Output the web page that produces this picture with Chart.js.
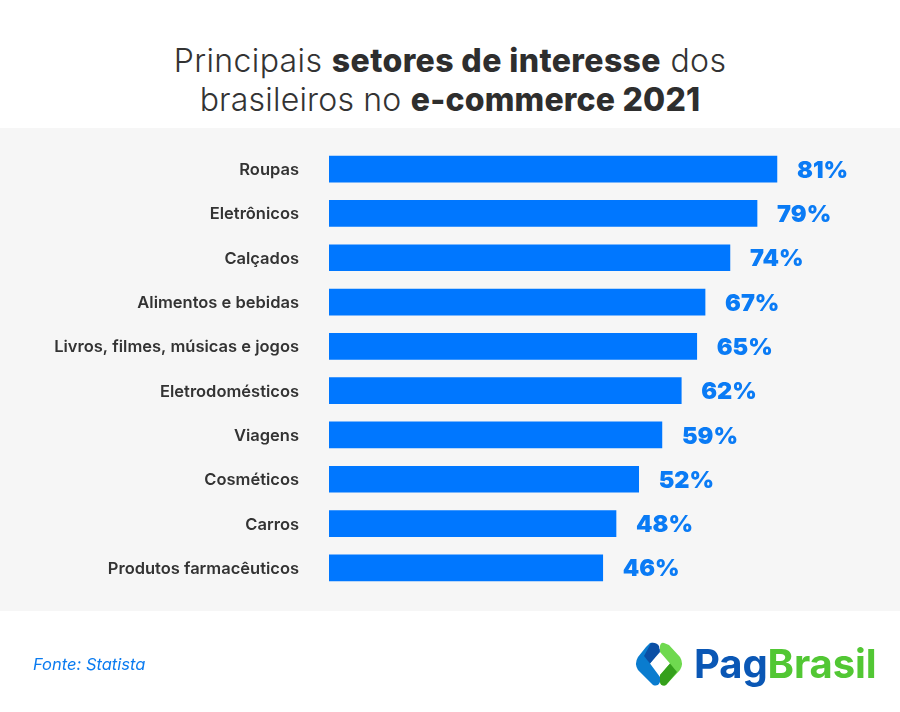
<!DOCTYPE html>
<html>
<head>
<meta charset="utf-8">
<script src="https://cdn.jsdelivr.net/npm/chart.js@4"></script>
<style>
  html, body { margin: 0; padding: 0; background: #fff; }
  #page { position: relative; width: 900px; height: 712px; overflow: hidden; font-family: Inter, sans-serif; }
  #panel { position: absolute; left: 0; top: 128px; width: 900px; height: 483px; background: #f6f6f6; }
  #graph { position: absolute; left: 0; top: 0; }
  .title { position: absolute; left: 0; width: 900px; text-align: center; font-size: 32px; line-height: 40px; font-weight: 300; color: #333; letter-spacing: 0.4px; white-space: nowrap; }
  .title b { font-weight: 800; color: #2e2e2e; }
  #source { position: absolute; left: 33px; top: 654px; font-size: 16.5px; line-height: 20px; font-style: italic; color: #0a7bf0; }
  #logo { position: absolute; left: 634px; top: 642px; }
  #brand { position: absolute; left: 694px; top: 639px; font-size: 40px; line-height: 50px; font-weight: 700; letter-spacing: -0.1px; color: #0a57b5; white-space: nowrap; }
  #brand span { color: #52c734; }
</style>
</head>
<body>
<div id="page">
  <div class="title" style="top:41px">Principais <b>setores de interesse</b> dos</div>
  <div class="title" style="top:80px;letter-spacing:0.2px">brasileiros no <b>e-commerce 2021</b></div>
  <div id="panel"></div>
  <canvas id="graph" width="900" height="712"></canvas>
  <div id="source">Fonte: Statista</div>
  <svg id="logo" width="50" height="46" viewBox="0 0 50 46">
    <path d="M16 1 Q19 0 21 2 L26 8 L16 21.5 L26 35 L26 40 Q24 45 19 43 L4 28 Q0 21.5 4 15 L12 5 Z" fill="#0a7ccf"/>
    <path d="M17 1 Q22 0 25 4 L26 10 L16 21.5 L10 14 Z" fill="#0b4fa5"/>
    <path d="M30 1 Q27 0 26 4 L26 10 L36 21.5 L26 33 L26 40 Q27 45 32 43 L46 28 Q50 21.5 46 15 L35 3 Z" fill="#6fd94f"/>
    <path d="M36 21.5 L26 33 L26 40 Q27 45 32 43 L43 30 Z" fill="#35a01c"/>
  </svg>
  <div id="brand">Pag<span>Brasil</span></div>
</div>
<script>
const categories = ['Roupas', 'Eletrônicos', 'Calçados', 'Alimentos e bebidas', 'Livros, filmes, músicas e jogos',
  'Eletrodomésticos', 'Viagens', 'Cosméticos', 'Carros', 'Produtos farmacêuticos'];
// printed percentages
const valueLabels = ['81%', '79%', '74%', '67%', '65%', '62%', '59%', '52%', '48%', '46%'];
// bar lengths as drawn in the picture, they are not strictly proportional to the printed numbers
const barLengths = [81, 77.4, 72.5, 68, 66.5, 63.7, 60.2, 56, 51.9, 49.5];

const valueLabelPlugin = {
  id: 'valueLabels',
  afterDatasetsDraw(chart) {
    const ctx = chart.ctx;
    ctx.save();
    ctx.font = '900 23.5px Inter, sans-serif';
    ctx.fillStyle = '#0a7bf5';
    ctx.textAlign = 'left';
    ctx.textBaseline = 'middle';
    chart.getDatasetMeta(0).data.forEach(function(bar, i) {
      ctx.fillText(valueLabels[i], bar.x + 20, bar.y + 1.5);
    });
    ctx.restore();
  }
};

new Chart(document.querySelector('#graph').getContext('2d'), {
  type: 'bar',
  data: {
    labels: categories,
    datasets: [{ data: barLengths, backgroundColor: '#0077ff', barThickness: 26, borderWidth: 0 }]
  },
  options: {
    indexAxis: 'y',
    responsive: false,
    animation: false,
    layout: { padding: { left: 0, right: 18, top: 147, bottom: 122 } },
    plugins: { legend: { display: false }, title: { display: false }, tooltip: { enabled: false } },
    scales: {
      x: { min: 0, max: 100, display: false },
      y: {
        afterFit(axis) { axis.width = 329; },
        grid: { display: false },
        border: { display: false },
        ticks: { color: '#333', padding: 22, labelOffset: 1, font: { family: 'Inter, sans-serif', size: 16.5, weight: '600' } }
      }
    }
  },
  plugins: [valueLabelPlugin]
});
</script>
</body>
</html>
